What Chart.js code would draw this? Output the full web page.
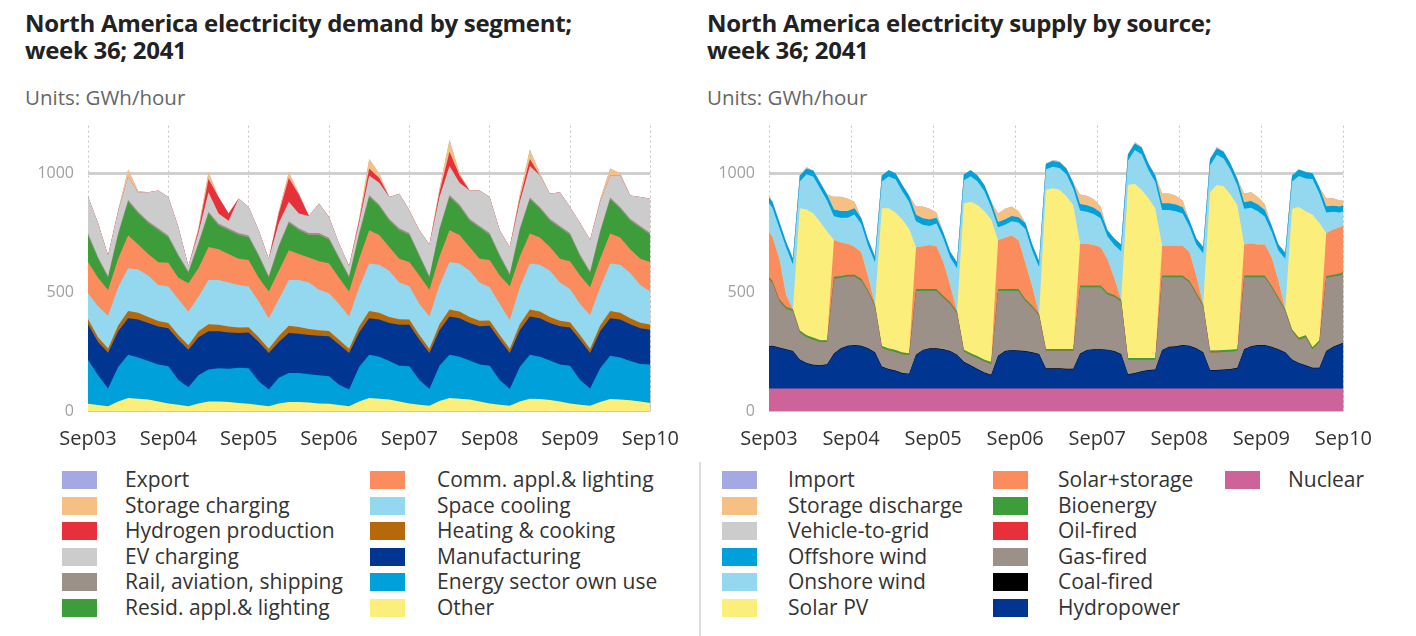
<!DOCTYPE html>
<html lang="en">
<head>
  <meta charset="UTF-8">
  <title>North America electricity demand and supply, week 36 2041</title>
  <script src="https://cdn.jsdelivr.net/npm/chart.js"></script>
  <style>
    body { margin: 0; width: 1416px; height: 636px; background: #fff; font-family: "Open Sans", Arial, sans-serif; position: relative; overflow: hidden; }
    .title { position: absolute; top: 9px; font-weight: 700; font-size: 24px; line-height: 27px; color: #222; letter-spacing: -0.3px; }
    .units { position: absolute; top: 83px; font-size: 20.5px; color: #666; }
    canvas { position: absolute; top: 102px; }
    .legend { position: absolute; top: 467px; }
    .item { position: absolute; height: 25px; white-space: nowrap; font-size: 21px; color: #333; line-height: 25px; }
    .item span { position: absolute; top: 4px; left: 0; width: 35px; height: 18px; }
    .sep { position: absolute; left: 699px; top: 462px; width: 2px; height: 174px; background: #ddd; }
  </style>
</head>
<body>
  <div class="title" style="left:25px">North America electricity demand by segment;<br>week 36; 2041</div>
  <div class="units" style="left:25px">Units: GWh/hour</div>
  <div class="title" style="left:707px">North America electricity supply by source;<br>week 36; 2041</div>
  <div class="units" style="left:707px">Units: GWh/hour</div>

  <canvas id="demandChart" width="695" height="349" style="left:0px"></canvas>
  <canvas id="supplyChart" width="708" height="349" style="left:680px"></canvas>

  <div class="sep"></div>
  <div id="demandLegend" class="legend"></div>
  <div id="supplyLegend" class="legend"></div>

  <script>
    const dayLabels = ['Sep03', 'Sep04', 'Sep05', 'Sep06', 'Sep07', 'Sep08', 'Sep09', 'Sep10'];

    // sample times in hours after Sep03 00:00
    // demand: every 3 h (00,03,...,21 each day), supply: odd hours plus both ends
    const demHours = [];
    for (let h = 0; h <= 168; h += 3) demHours.push(h);
    const supHours = [0];
    for (let h = 1; h < 168; h += 2) supHours.push(h);
    supHours.push(168);

    // ---- demand by segment (GWh/hour), one row per day
    const demOther = [
      30, 25, 20, 40, 55, 52, 48, 40,
      32, 26, 20, 32, 40, 40, 38, 34,
      30, 25, 20, 32, 38, 38, 36, 32,
      30, 25, 20, 40, 55, 52, 48, 40,
      32, 26, 22, 42, 55, 52, 48, 40,
      32, 26, 22, 40, 52, 50, 46, 40,
      32, 26, 22, 38, 50, 48, 45, 40,
      34];
    const demEnergy = [
      185, 125, 75, 145, 182, 173, 162, 155,
      156, 104, 80, 118, 135, 140, 140, 148,
      150, 100, 70, 108, 122, 122, 119, 118,
      116, 85, 70, 145, 182, 176, 162, 150,
      156, 104, 70, 148, 182, 176, 164, 155,
      158, 104, 70, 145, 185, 178, 166, 155,
      158, 104, 73, 142, 182, 177, 165, 158,
      161];
    const demManuf = [
      150, 140, 150, 150, 153, 160, 160, 160,
      160, 170, 158, 160, 160, 155, 152, 146,
      150, 165, 154, 150, 168, 165, 165, 166,
      168, 170, 154, 145, 153, 157, 160, 173,
      175, 170, 152, 150, 160, 162, 158, 161,
      168, 170, 152, 155, 160, 162, 158, 161,
      161, 170, 149, 155, 158, 160, 155, 150,
      147];
    const demHeat = [
      22, 20, 18, 25, 30, 28, 25, 23,
      22, 20, 18, 25, 30, 28, 25, 23,
      22, 20, 18, 25, 30, 28, 25, 23,
      22, 20, 18, 25, 30, 28, 25, 23,
      22, 20, 18, 25, 30, 28, 25, 23,
      22, 20, 18, 25, 30, 28, 25, 23,
      22, 20, 18, 25, 30, 28, 25, 23,
      22];
    const demCooling = [
      108, 130, 137, 160, 180, 182, 175, 152,
      153, 150, 142, 145, 186, 188, 185, 179,
      171, 150, 128, 155, 193, 198, 195, 171,
      159, 150, 135, 165, 200, 202, 195, 154,
      140, 130, 135, 165, 200, 202, 195, 161,
      140, 130, 121, 155, 193, 197, 195, 161,
      140, 130, 142, 160, 200, 202, 190, 159,
      138];
    const demComm = [
      132, 120, 109, 120, 139, 105, 90, 95,
      100, 90, 119, 120, 139, 129, 120, 110,
      112, 100, 112, 120, 125, 109, 105, 120,
      126, 110, 105, 120, 140, 125, 100, 100,
      102, 120, 113, 120, 133, 120, 100, 100,
      115, 120, 142, 130, 126, 115, 100, 100,
      117, 120, 116, 120, 126, 115, 100, 110,
      125];
    const demResid = [
      112, 80, 51, 100, 141, 130, 130, 135,
      107, 90, 43, 100, 140, 100, 100, 100,
      95, 90, 58, 100, 114, 100, 95, 110,
      99, 80, 58, 100, 140, 120, 110, 120,
      113, 80, 50, 110, 140, 120, 110, 130,
      105, 80, 45, 110, 144, 120, 110, 130,
      110, 80, 60, 110, 144, 120, 120, 130,
      113];
    const demRail = [
      8, 8, 8, 8, 8, 8, 8, 8,
      8, 8, 8, 8, 8, 8, 8, 8,
      8, 8, 8, 8, 8, 8, 8, 8,
      8, 8, 8, 8, 8, 8, 8, 8,
      8, 8, 8, 8, 8, 8, 8, 8,
      8, 8, 8, 8, 8, 8, 8, 8,
      8, 8, 8, 8, 8, 8, 8, 8,
      8];
    const demEV = [
      155, 142, 87, 92, 97, 82, 122, 159,
      162, 116, 22, 42, 82, 42, 32, 145,
      120, 102, 72, 92, 82, 62, 72, 124,
      88, 56, 42, 42, 82, 92, 92, 145,
      96, 102, 132, 132, 122, 92, 119, 149,
      152, 102, 112, 112, 132, 132, 105, 142,
      110, 132, 132, 122, 92, 132, 98, 122,
      144];
    const demHydrogen = [
      0, 0, 0, 0, 0, 0, 0, 0,
      0, 0, 0, 10, 55, 70, 30, 0,
      0, 0, 0, 40, 100, 80, 0, 0,
      0, 0, 0, 10, 30, 20, 0, 0,
      0, 0, 0, 20, 60, 30, 0, 0,
      0, 0, 0, 15, 30, 0, 0, 0,
      0, 0, 0, 0, 0, 0, 0, 0,
      0];
    const demStorage = [
      0, 0, 0, 5, 30, 5, 0, 0,
      0, 0, 0, 10, 30, 0, 0, 0,
      0, 0, 0, 10, 25, 5, 0, 0,
      0, 0, 0, 10, 40, 20, 0, 0,
      0, 0, 0, 15, 50, 10, 0, 0,
      0, 0, 0, 15, 40, 10, 0, 0,
      0, 0, 0, 10, 30, 10, 0, 0,
      0];
    const demExport = [
      0, 0, 0, 0, 0, 0, 0, 0,
      0, 0, 0, 0, 0, 0, 0, 0,
      0, 0, 0, 0, 0, 0, 0, 0,
      0, 0, 0, 0, 0, 0, 0, 0,
      0, 0, 0, 0, 0, 0, 0, 0,
      0, 0, 0, 0, 0, 0, 0, 0,
      0, 0, 0, 0, 0, 0, 0, 0,
      0];

    // ---- supply by source (GWh/hour): Sep03 00h, then rows of 01,03,...,23h per day, then Sep10 00h
    const supNuclear = [95,
      95, 95, 95, 95, 95, 95, 95, 95, 95, 95, 95, 95,
      95, 95, 95, 95, 95, 95, 95, 95, 95, 95, 95, 95,
      95, 95, 95, 95, 95, 95, 95, 95, 95, 95, 95, 95,
      95, 95, 95, 95, 95, 95, 95, 95, 95, 95, 95, 95,
      95, 95, 95, 95, 95, 95, 95, 95, 95, 95, 95, 95,
      95, 95, 95, 95, 95, 95, 95, 95, 95, 95, 95, 95,
      95, 95, 95, 95, 95, 95, 95, 95, 95, 95, 95, 95,
      95];
    const supHydro = [175,
      177, 170, 163, 155, 120, 105, 97, 95, 100, 145, 167, 177,
      180, 177, 167, 150, 90, 80, 73, 63, 60, 140, 160, 167,
      167, 163, 155, 140, 110, 95, 80, 65, 55, 135, 155, 160,
      157, 155, 150, 143, 83, 83, 83, 81, 81, 145, 160, 163,
      163, 161, 155, 143, 57, 63, 70, 75, 77, 160, 173, 175,
      180, 177, 167, 150, 75, 75, 77, 80, 85, 163, 175, 180,
      180, 173, 163, 150, 120, 105, 95, 85, 85, 155, 173, 185,
      190];
    const supCoal = [2,
      2, 2, 2, 2, 2, 2, 2, 2, 2, 2, 2, 2,
      2, 2, 2, 2, 2, 2, 2, 2, 2, 2, 2, 2,
      2, 2, 2, 2, 2, 2, 2, 2, 2, 2, 2, 2,
      2, 2, 2, 2, 2, 2, 2, 2, 2, 2, 2, 2,
      2, 2, 2, 2, 2, 2, 2, 2, 2, 2, 2, 2,
      2, 2, 2, 2, 2, 2, 2, 2, 2, 2, 2, 2,
      2, 2, 2, 2, 2, 2, 2, 2, 2, 2, 2, 2,
      2];
    const supGas = [283,
      266, 196, 170, 168, 113, 108, 106, 98, 93, 314, 296, 291,
      288, 274, 236, 193, 78, 78, 78, 78, 78, 268, 248, 241,
      241, 217, 198, 173, 43, 43, 45, 46, 46, 273, 253, 248,
      251, 211, 188, 160, 73, 73, 73, 75, 75, 278, 263, 260,
      260, 232, 228, 220, 61, 55, 48, 43, 41, 305, 292, 290,
      285, 266, 226, 193, 74, 74, 74, 73, 70, 302, 290, 285,
      285, 250, 210, 173, 118, 98, 118, 78, 108, 308, 295, 288,
      289];
    const supOil = [0,
      0, 0, 0, 0, 0, 0, 0, 0, 0, 0, 0, 0,
      0, 0, 0, 0, 0, 0, 0, 0, 0, 0, 0, 0,
      0, 0, 0, 0, 0, 0, 0, 0, 0, 0, 0, 0,
      0, 0, 0, 0, 0, 0, 0, 0, 0, 0, 0, 0,
      0, 0, 0, 0, 0, 0, 0, 0, 0, 0, 0, 0,
      0, 0, 0, 0, 0, 0, 0, 0, 0, 0, 0, 0,
      0, 0, 0, 0, 0, 0, 0, 0, 0, 0, 0, 0,
      0];
    const supBio = [8,
      8, 8, 8, 8, 8, 8, 8, 8, 8, 8, 8, 8,
      8, 8, 8, 8, 8, 8, 8, 8, 8, 8, 8, 8,
      8, 8, 8, 8, 8, 8, 8, 8, 8, 8, 8, 8,
      8, 8, 8, 8, 8, 8, 8, 8, 8, 8, 8, 8,
      8, 8, 8, 8, 8, 8, 8, 8, 8, 8, 8, 8,
      8, 8, 8, 8, 8, 8, 8, 8, 8, 8, 8, 8,
      8, 8, 8, 8, 8, 8, 8, 8, 8, 8, 8, 8,
      8];
    const supSolarStorage = [190,
      185, 170, 50, 0, 0, 0, 0, 0, 0, 155, 140, 130,
      118, 110, 55, 0, 0, 0, 0, 0, 0, 175, 180, 185,
      180, 140, 70, 0, 0, 0, 0, 0, 0, 205, 215, 225,
      205, 150, 80, 0, 0, 0, 0, 0, 0, 175, 175, 170,
      160, 140, 70, 0, 0, 0, 0, 0, 0, 125, 125, 125,
      125, 120, 70, 0, 0, 0, 0, 0, 0, 130, 135, 130,
      130, 120, 70, 0, 0, 0, 0, 0, 0, 180, 190, 195,
      196];
    const supSolarPV = [0,
      0, 0, 0, 0, 514, 529, 522, 497, 457, 0, 0, 0,
      0, 0, 0, 0, 579, 589, 579, 559, 522, 0, 0, 0,
      0, 0, 0, 0, 615, 637, 636, 624, 599, 0, 0, 0,
      0, 0, 0, 0, 669, 676, 669, 642, 604, 0, 0, 0,
      0, 0, 0, 0, 727, 732, 707, 672, 627, 0, 0, 0,
      0, 0, 0, 0, 666, 696, 689, 652, 605, 0, 0, 0,
      0, 0, 0, 0, 507, 550, 522, 557, 492, 0, 0, 0,
      0];
    const supOnshore = [120,
      122, 130, 200, 188, 113, 148, 155, 140, 130, 100, 105, 110,
      135, 119, 132, 177, 113, 134, 139, 119, 114, 110, 90, 80,
      95, 100, 117, 182, 97, 107, 99, 85, 52, 55, 55, 60,
      75, 144, 152, 197, 86, 90, 92, 92, 70, 140, 135, 130,
      122, 97, 140, 204, 102, 142, 150, 118, 113, 150, 150, 145,
      135, 107, 132, 215, 112, 127, 117, 103, 84, 150, 150, 140,
      118, 107, 127, 212, 115, 130, 138, 150, 125, 87, 75, 62,
      60];
    const supOffshore = [25,
      25, 25, 23, 25, 25, 25, 25, 25, 25, 28, 28, 28,
      27, 25, 25, 25, 25, 26, 26, 26, 26, 27, 27, 27,
      25, 25, 25, 25, 25, 25, 25, 25, 23, 22, 22, 22,
      22, 25, 25, 25, 24, 24, 24, 25, 25, 27, 27, 27,
      25, 25, 27, 28, 28, 28, 28, 27, 27, 28, 28, 28,
      27, 25, 25, 27, 28, 28, 28, 27, 26, 28, 28, 28,
      27, 25, 25, 25, 25, 27, 27, 25, 25, 26, 25, 25,
      25];
    const supV2G = [0,
      0, 0, 0, 0, 0, 5, 0, 0, 0, 0, 0, 0,
      0, 0, 0, 0, 0, 0, 0, 0, 0, 0, 0, 0,
      0, 0, 0, 0, 0, 0, 0, 0, 0, 0, 0, 0,
      0, 0, 0, 0, 0, 4, 4, 0, 0, 0, 0, 0,
      0, 0, 0, 0, 0, 5, 2, 0, 0, 0, 0, 0,
      0, 0, 0, 0, 0, 5, 0, 0, 0, 0, 0, 0,
      0, 0, 0, 0, 0, 0, 0, 0, 0, 0, 0, 0,
      0];
    const supStorageDis = [10,
      0, 0, 0, 0, 0, 0, 0, 0, 0, 54, 60, 53,
      27, 0, 0, 0, 0, 0, 0, 0, 0, 35, 50, 45,
      22, 0, 0, 0, 0, 0, 0, 0, 0, 35, 45, 40,
      25, 0, 0, 0, 0, 0, 0, 0, 0, 40, 40, 35,
      25, 0, 0, 0, 0, 0, 0, 0, 0, 42, 42, 37,
      28, 0, 0, 0, 0, 0, 0, 0, 0, 37, 37, 32,
      25, 0, 0, 0, 0, 0, 0, 0, 0, 34, 32, 25,
      20];
    const supImport = supOil;

    // stacking order: first entry is the bottom layer
    const demandSeries = [
      ['Other', '#fcee7b', demOther],
      ['Energy sector own use', '#00a0db', demEnergy],
      ['Manufacturing', '#003591', demManuf],
      ['Heating & cooking', '#b5690b', demHeat],
      ['Space cooling', '#94d8f0', demCooling],
      ['Comm. appl.& lighting', '#fa8c5e', demComm],
      ['Resid. appl.& lighting', '#3d9d3a', demResid],
      ['Rail, aviation, shipping', '#9b9189', demRail],
      ['EV charging', '#cccccc', demEV],
      ['Hydrogen production', '#e8303a', demHydrogen],
      ['Storage charging', '#f6c085', demStorage],
      ['Export', '#a4a9e4', demExport]
    ];
    const supplySeries = [
      ['Nuclear', '#cd6399', supNuclear],
      ['Hydropower', '#003591', supHydro],
      ['Coal-fired', '#000000', supCoal],
      ['Gas-fired', '#9b9189', supGas],
      ['Oil-fired', '#e8303a', supOil],
      ['Bioenergy', '#3d9d3a', supBio],
      ['Solar+storage', '#fa8c5e', supSolarStorage],
      ['Solar PV', '#fcee7b', supSolarPV],
      ['Onshore wind', '#94d8f0', supOnshore],
      ['Offshore wind', '#00a0db', supOffshore],
      ['Vehicle-to-grid', '#cccccc', supV2G],
      ['Storage discharge', '#f6c085', supStorageDis],
      ['Import', '#a4a9e4', supImport]
    ];

    function makeChart(id, series, hours, axisWidth) {
      // every layer fills to zero; lower layers are drawn later and cover the rest
      const datasets = series.map(([name, color, values]) => ({
        label: name,
        data: values.map((v, i) => ({ x: hours[i], y: v })),
        backgroundColor: color,
        borderWidth: 0,
        pointRadius: 0,
        tension: 0,
        fill: 'origin'
      }));
      new Chart(document.getElementById(id), {
        type: 'line',
        data: { datasets },
        options: {
          responsive: false,
          animation: false,
          layout: { padding: { top: 0, right: 40, left: 0, bottom: 0 } },
          plugins: { legend: { display: false }, tooltip: { enabled: false } },
          scales: {
            x: {
              type: 'linear',
              min: 0,
              max: 168,
              z: 1,
              border: { display: false, dash: [2, 3] },
              grid: { color: '#c4c4c4', lineWidth: 1, drawTicks: false },
              afterBuildTicks: s => { s.ticks = dayLabels.map((_, d) => ({ value: d * 24 })); },
              ticks: {
                autoSkip: false, maxRotation: 0, padding: 16,
                color: '#333', font: { size: 20, family: 'Open Sans' },
                callback: v => dayLabels[v / 24]
              },
              afterFit: s => { s.height = 40; }
            },
            y: {
              stacked: true,
              min: 0,
              max: 1200,
              border: { display: false },
              afterBuildTicks: s => { s.ticks = [0, 500, 1000].map(v => ({ value: v })); },
              afterFit: s => { s.width = axisWidth; },
              grid: {
                drawTicks: false,
                color: c => (c.tick.value === 1000 ? '#cfcfcf' : c.tick.value === 0 ? '#c8c8c8' : '#e6e6e6'),
                lineWidth: c => (c.tick.value === 1000 ? 3 : c.tick.value === 0 ? 2 : 1.5)
              },
              ticks: {
                padding: 14, color: '#a0a0a0', font: { size: 16, family: 'Open Sans' },
                callback: v => String(v)
              }
            }
          }
        }
      });
    }

    function makeLegend(id, series, cols) {
      const box = document.getElementById(id);
      series.slice().reverse().forEach(([name, color], k) => {
        const col = Math.floor(k / 6), row = k % 6;
        const div = document.createElement('div');
        div.className = 'item';
        div.style.left = cols[col][0] + 'px';
        div.style.top = (row * 25.5) + 'px';
        const sw = document.createElement('span');
        sw.style.background = color;
        const txt = document.createElement('i');
        txt.style.fontStyle = 'normal';
        txt.style.position = 'absolute';
        txt.style.left = cols[col][1] + 'px';
        txt.textContent = name;
        div.appendChild(sw);
        div.appendChild(txt);
        box.appendChild(div);
      });
    }

    makeChart('demandChart', demandSeries, demHours, 88);
    makeChart('supplyChart', supplySeries, supHours, 89);
    makeLegend('demandLegend', demandSeries, [[62, 63], [370, 67]]);
    makeLegend('supplyLegend', supplySeries, [[722, 66], [993, 65], [1225, 63]]);
  </script>
</body>
</html>
